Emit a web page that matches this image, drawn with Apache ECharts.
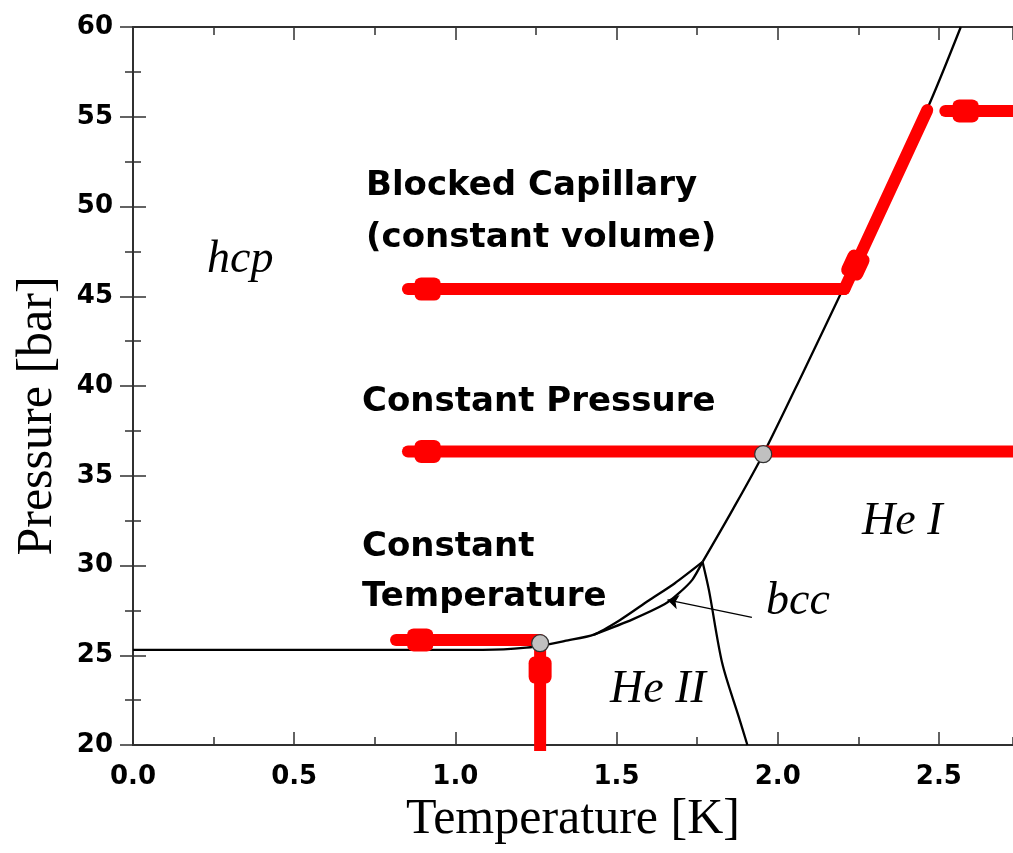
<!DOCTYPE html>
<html>
<head>
<meta charset="utf-8">
<script src="https://cdn.jsdelivr.net/npm/echarts@6/dist/echarts.min.js"></script>
<style>html,body{margin:0;padding:0;background:#fff}#c{width:1013px;height:853px}</style>
</head>
<body>
<div id="c"></div>
<script>
// ---- data ----
const xTickValues = [0, 0.5, 1.0, 1.5, 2.0, 2.5];
const yTickValues = [20, 25, 30, 35, 40, 45, 50, 55, 60];
// melting curve (hcp boundary), low-T part and high-T part
const meltingLow = [[0,25.3],[0.5,25.3],[1.0,25.3],[1.15,25.33],[1.22,25.42],[1.28,25.58],[1.34,25.8],[1.43,26.15],[1.51,26.95],[1.60,28.05],[1.68,29.0],[1.767,30.2]];
const meltingHigh = [[1.767,30.2],[1.86,33.1],[1.955,36.2],[2.08,40.8],[2.201,45.35],[2.33,50.4],[2.463,55.4],[2.568,60]];
// bcc / He II boundary
const bccBoundary = [[1.43,26.15],[1.55,27.0],[1.65,27.85],[1.69,28.4],[1.735,29.2],[1.767,30.2]];
// lambda line
const lambdaLine = [[1.767,30.2],[1.787,28.6],[1.828,24.55],[1.879,21.58],[1.906,20]];
// bcc pointer
const bccPointer = [[1.92,27.11],[1.658,28.08]];
// red paths
const constTempUp = [[1.263,19.5],[1.263,25.6]];
const constTempLeft = [[1.263,25.85],[0.816,25.85]];
const constPressure = [[2.73,36.35],[0.853,36.35]];
const blockedIn = [[2.73,55.32],[2.52,55.32]];
const blockedDown = [[2.464,55.37],[2.207,45.4]];
const blockedLeft = [[2.207,45.4],[0.853,45.4]];
// arrow head collars: [x, y]
const headsHorizontal = [[0.914,45.4],[0.914,36.35],[0.891,25.85],[2.583,55.32]];
const headsVertical = [[1.263,24.18]];
const headsSloped = [[2.241,46.74]];
// gray circles
const circles = [[1.263,25.67],[1.955,36.2]];

const chart = echarts.init(document.getElementById('c'));
const axisColor = '#303030';
const tickFont = {color:'#000', fontFamily:'DejaVu Sans', fontWeight:'bold', fontSize:26};
const serif = 'Liberation Serif';

function redLine(d){
  return {type:'line', data:d, xAxisIndex:0, yAxisIndex:0, symbol:'none', z:3,
    lineStyle:{color:'#ff0000', width:12, cap:'round'}, silent:true, animation:false};
}
function blackLine(d, smooth){
  return {type:'line', data:d, xAxisIndex:0, yAxisIndex:0, symbol:'none', z:2, smooth:smooth||false,
    lineStyle:{color:'#000', width:2.3}, silent:true, animation:false};
}
function xAx(pos, major){
  return {type:'value', position:pos, min:0, max:2.73, interval: major?0.5:0.25,
    axisLine:{show:major, lineStyle:{color:axisColor, width:2}},
    axisTick:{show:true, inside:true, length: major?13:8, lineStyle:{color:axisColor, width:1.5}},
    axisLabel:{show: major && pos==='bottom', ...tickFont, margin:19, showMaxLabel:false,
      formatter:(v)=>xTickValues.includes(v)? v.toFixed(1):''},
    splitLine:{show:false},
    name: (major && pos==='bottom') ? 'Temperature [K]' : '',
    nameLocation:'middle', nameGap:50,
    nameTextStyle:{fontFamily:serif, fontSize:50, color:'#000'}};
}
function yAx(pos){
  return {type:'value', position:pos, min:20, max:60, interval:5,
    axisLine:{show:true, lineStyle:{color:axisColor, width:2}},
    axisTick:{show:true, inside:true, length:13, lineStyle:{color:axisColor, width:1.5}},
    minorTick:{show:true, splitNumber:2, length:8, lineStyle:{color:axisColor, width:1.5}},
    axisLabel:{show: pos==='left', ...tickFont, margin:20,
      formatter:(v)=>yTickValues.includes(v)? String(v):''},
    splitLine:{show:false}};
}

const series = [
  blackLine(meltingLow, 0.25),
  blackLine(meltingHigh, 0.3),
  blackLine(bccBoundary, 0.25),
  blackLine(lambdaLine, 0.3),
  {type:'lines', coordinateSystem:'cartesian2d', xAxisIndex:0, yAxisIndex:0, z:2,
   symbol:['none','arrow'], symbolSize:11, silent:true, animation:false,
   lineStyle:{color:'#000', width:1.3, opacity:1},
   data:[{coords:bccPointer}]},
  redLine(constTempUp), redLine(constTempLeft), redLine(constPressure),
  redLine(blockedIn), redLine(blockedDown), redLine(blockedLeft),
  {type:'scatter', data:headsHorizontal, symbol:'roundRect', symbolSize:[26,23], z:4,
   itemStyle:{color:'#ff0000', opacity:1}, silent:true, animation:false},
  {type:'scatter', data:headsVertical, symbol:'roundRect', symbolSize:[23,27], z:4,
   itemStyle:{color:'#ff0000', opacity:1}, silent:true, animation:false},
  {type:'scatter', data:headsSloped, symbol:'roundRect', symbolSize:[23,28], symbolRotate:-25, z:4,
   itemStyle:{color:'#ff0000', opacity:1}, silent:true, animation:false},
  {type:'scatter', data:circles, symbol:'circle', symbolSize:17, z:6,
   itemStyle:{color:'#c0c0c0', borderColor:'#333', borderWidth:1.2, opacity:1}, silent:true, animation:false}
];

const sansBold = 'bold 34px "DejaVu Sans"';
const serifItal = 'italic 46px "Liberation Serif"';
function txt(t, x, y, font){
  return {type:'text', x:x, y:y, z:10, style:{text:t, font:font, fill:'#000', align:'left', verticalAlign:'middle'}};
}

chart.setOption({
  animation:false,
  grid:{left:133, right:-8, top:27, bottom:108, containLabel:false},
  xAxis:[xAx('bottom',true), xAx('bottom',false), xAx('top',true), xAx('top',false)],
  yAxis:[yAx('left'), yAx('right')],
  series: series,
  graphic:[
    {type:'text', x:38, y:416, rotation:Math.PI/2, z:10,
     style:{text:'Pressure [bar]', font:'50px "Liberation Serif"', fill:'#000', align:'center', verticalAlign:'middle'}},
    txt('Blocked Capillary', 366, 186, sansBold),
    txt('(constant volume)', 366, 238, sansBold),
    txt('Constant Pressure', 362, 402, sansBold),
    txt('Constant', 362, 547, sansBold),
    txt('Temperature', 362, 597, sansBold),
    txt('hcp', 207, 260, serifItal),
    txt('He I', 862, 522, serifItal),
    txt('He II', 610, 690, serifItal),
    txt('bcc', 766, 602, serifItal)
  ]
});
</script>
</body>
</html>
